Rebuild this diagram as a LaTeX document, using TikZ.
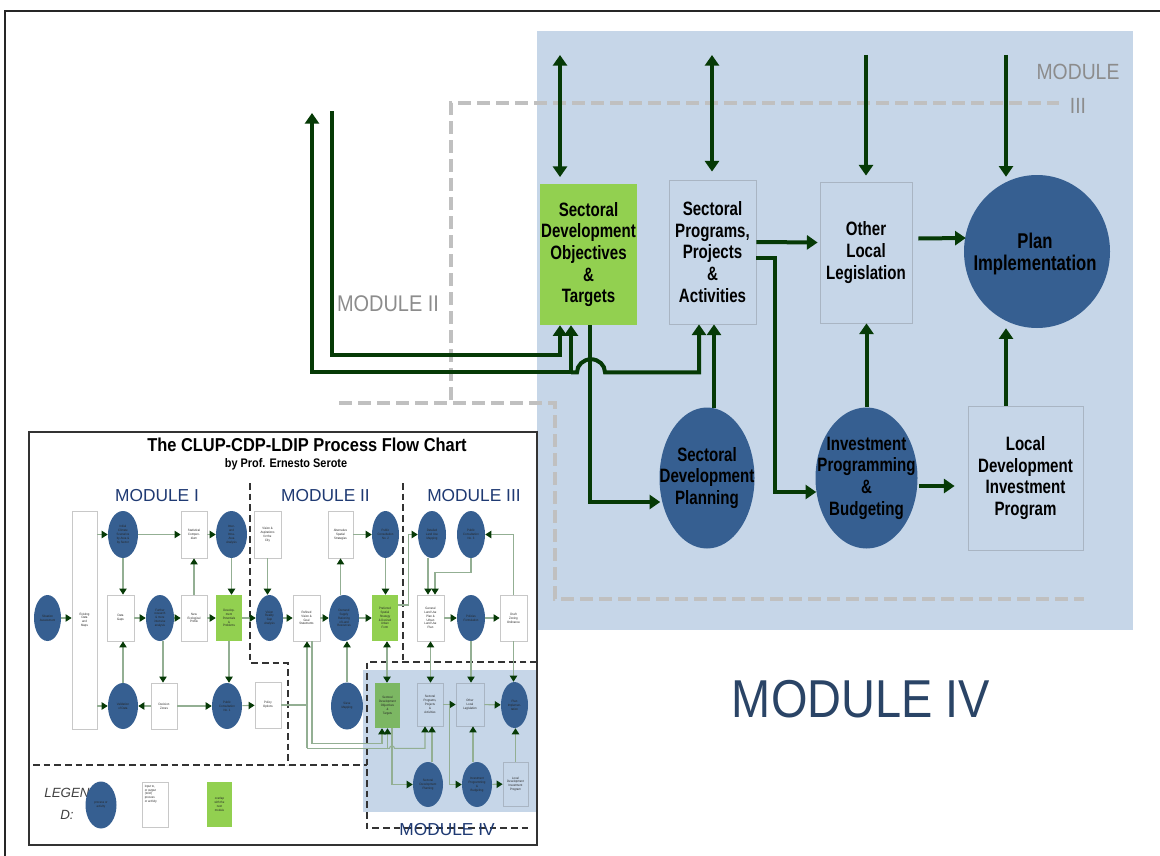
\documentclass[tikz,border=0pt]{standalone}
\usepackage{fontspec}
\setmainfont{Liberation Sans}[FakeStretch=0.88]
\newfontfamily\narrowsans{Liberation Sans}[FakeStretch=0.78]
\newfontfamily\plainsans{Liberation Sans}
\usetikzlibrary{shapes.geometric,arrows.meta,calc}

\definecolor{bgblue}{HTML}{C6D6E8}
\definecolor{ellblue}{HTML}{365F91}
\definecolor{leaf}{HTML}{92D050}
\definecolor{leafdim}{HTML}{7CB763}
\definecolor{flow}{HTML}{063A06}
\definecolor{dashgray}{HTML}{C0C0C0}
\definecolor{modgray}{HTML}{8C8C8C}
\definecolor{modblue}{HTML}{2A4466}
\definecolor{insetblue}{HTML}{1F3A73}
\definecolor{thinflow}{HTML}{93AF93}
\definecolor{boxedge}{HTML}{A9B5C3}
\definecolor{paleedge}{HTML}{C8C8C8}

\tikzset{
  wh/.style 2 args={minimum width=#1*0.75pt, minimum height=#2*0.75pt},
  % large flow chart
  mtext/.style={font=\narrowsans\bfseries\fontsize{14.5}{16.2}\selectfont, align=center, text=black, inner sep=0pt},
  mbox/.style={rectangle, draw=boxedge, line width=0.6pt, fill=bgblue, inner sep=0pt},
  mgreen/.style={rectangle, fill=leaf, inner sep=0pt},
  mell/.style={ellipse, fill=ellblue, inner sep=0pt},
  tipbig/.tip={Triangle[length=8pt,width=10.5pt]},
  flowline/.style={draw=flow, line width=3pt},
  flowarr/.style={flowline, -tipbig},
  flowboth/.style={flowline, tipbig-tipbig},
  gdash/.style={draw=dashgray, line width=3.6pt, dash pattern=on 9.75pt off 4.5pt},
  % small overview chart
  itext/.style={font=\fontsize{2.4}{2.9}\selectfont, align=center, text=black!85, inner sep=0pt},
  ibox/.style={itext, rectangle, draw=paleedge, line width=0.6pt, fill=white},
  iboxb/.style={itext, rectangle, draw=boxedge, line width=0.6pt, fill=bgblue},
  iell/.style={itext, ellipse, fill=ellblue},
  igreen/.style={itext, rectangle, fill=leaf},
  itip/.tip={Triangle[length=4.5pt,width=5.5pt,color=flow]},
  ithin/.style={draw=thinflow, line width=0.8pt},
  ithinarr/.style={ithin, -itip},
  ithinboth/.style={ithin, itip-itip},
  kdash/.style={draw=black!80, line width=1.1pt, dash pattern=on 5pt off 3pt},
}

\begin{document}
\begin{tikzpicture}[x=0.75pt,y=-0.75pt]
\useasboundingbox (0,0) rectangle (1160,856);
\fill[white] (0,0) rectangle (1160,856);

% page frame
\draw[line width=1.6pt, black!85] (5,856) -- (5,11) -- (1160,11);

% Module IV panel
\fill[bgblue] (537,31) rectangle (1133,630);

% module outlines
\draw[gdash] (451,400) -- (451,103) -- (1059,103);
\draw[gdash] (339,403) -- (555,403) -- (555,599) -- (1084,599);

\node[font=\fontsize{16.5}{18}\selectfont, text=modgray] (m3a) at (1078,72) {MODULE};
\node[font=\fontsize{16.5}{18}\selectfont, text=modgray] (m3b) at (1078,106) {III};
\node[font=\fontsize{17}{19}\selectfont, text=modgray] (m2) at (388,304) {MODULE II};
\node[font=\fontsize{40}{44}\selectfont, text=modblue] (m4) at (861,699) {MODULE IV};

% ---------- large flow chart ----------
\node[mgreen, wh={97}{141}] (sdot) at (588.5,254.5) {};
\node[mtext] (sdott) at (sdot) {Sectoral\\Development\\Objectives\\\&\\Targets};
\node[mbox, wh={87}{144}] (spp) at (712.5,252) {};
\node[mtext] (sppt) at (spp) {Sectoral\\Programs,\\Projects\\\&\\Activities};
\node[mbox, wh={92}{141}] (oll) at (866,252.5) {};
\node[mtext] (ollt) at (oll) {Other\\Local\\Legislation};
\node[mell, wh={146}{153}] (pi) at (1037,251.5) {};
\node[mtext, font=\narrowsans\bfseries\fontsize{16}{16.5}\selectfont] (pit) at ($(pi)+(-2,2)$) {Plan\\Implementation};
\node[mell, wh={95}{141}] (sdp) at (707,478) {};
\node[mtext] (sdpt) at (sdp) {Sectoral\\Development\\Planning};
\node[mell, wh={102}{141}] (ipb) at (866.5,478) {};
\node[mtext] (ipbt) at (ipb) {Investment\\Programming\\\&\\Budgeting};
\node[mbox, wh={115}{144}] (ldip) at (1025.5,478) {};
\node[mtext] (ldipt) at (ldip) {Local\\Development\\Investment\\Program};

% links from the modules above
\coordinate (t1) at (560,55);
\coordinate (t2) at (712,55);
\coordinate (t3) at (866,55);
\coordinate (t4) at (1006,55);
\draw[flowboth, shorten >=5pt] (t1) -- (t1 |- sdot.north);
\draw[flowboth, shorten >=6pt] (t2) -- (t2 |- spp.north);
\draw[flowarr, shorten >=4.5pt] (t3) -- (t3 |- oll.north);
\draw[flowarr] (t4) -- ($(pi.north)+(-31,2)$);

% links from module II
\coordinate (l1) at (312,113);
\coordinate (l2) at (332,111);
\coordinate (jn) at ($(sdot.south)+(-17.5,47)$);
\draw[flowarr] (l2) |- ($(sdot.south)+(-28.5,30)$) -- ($(sdot.south)+(-28.5,0)$);
\draw[flowarr] (jn) -| (l1);
\draw[flowarr] (jn) -- (jn |- sdot.south);
\draw[flowarr] (jn) -- ++(6,0) arc[start angle=180,end angle=360,x radius=14,y radius=13] -| ($(spp.south)+(-13.5,0)$);

% module IV links
\draw[flowarr] ($(sdot.south)+(1,0)$) |- ($(sdp.west)+(1,24)$);
\draw[flowarr] ($(spp.east)+(0,-10)$) -- ($(oll.west)+(-2,-10)$);
\draw[flowarr] ($(spp.east)+(0,6)$) -- ++(19,0) |- ($(ipb.west)+(1,14)$);
\draw[flowarr] ($(sdp.north)+(7,1)$) -- ($(spp.south)+(1.5,0)$);
\draw[flowarr] (ipb.north) -- (ipb.north |- oll.south);
\draw[flowarr] ($(oll.east)+(6,-14)$) -- ($(pi.west)+(2,-13.5)$);
\draw[flowarr] ($(ipb.east)+(1,8)$) -- ($(ldip.west)+(-13,8)$);
\draw[flowarr] ($(ldip.north)+(-19.5,0)$) -- ($(pi.south)+(-31,0)$);

% ---------- overview chart ----------
\fill[white] (29,432) rectangle (537,845);
\fill[bgblue] (363,670) rectangle (537,812);

\node[font=\bfseries\fontsize{14}{16}\selectfont] (ttl) at (307,445) {The CLUP-CDP-LDIP Process Flow Chart};
\node[font=\bfseries\fontsize{9.3}{11}\selectfont] (sub) at (286,464) {by Prof. Ernesto Serote};
\node[font=\plainsans\fontsize{13}{15}\selectfont, text=insetblue] (im1) at (157,496) {MODULE I};
\node[font=\plainsans\fontsize{13}{15}\selectfont, text=insetblue] (im2) at (325.5,496) {MODULE II};
\node[font=\plainsans\fontsize{13}{15}\selectfont, text=insetblue] (im3) at (474,496) {MODULE III};

\draw[kdash] (250,483) -- (250,663) -- (288,663) -- (288,765);
\draw[kdash] (33,765) -- (367,765);
\draw[kdash] (403,483) -- (403,662);
\draw[kdash] (537,662) -- (367,662) -- (367,828) -- (528,828);
\node[font=\plainsans\fontsize{13}{15}\selectfont, text=insetblue] (im4) at (447,830) {MODULE IV};

% module I
\node[iell, wh={27}{46}] (i_sa) at (47.5,618) {Situation\\Assessment};
\node[ibox, wh={25}{218}] (i_edm) at (84.5,620) {Existing\\Data\\and\\Maps};
\node[iell, wh={30}{47}] (i_ics) at (123,534.5) {Initial\\Climate\\Scenarios\\by Area \&\\by Sector};
\node[ibox, wh={26}{47}] (i_sc) at (194,534.5) {Statistical\\Compen-\\dium};
\node[iell, wh={31}{47}] (i_iia) at (231.5,534.5) {Inter-\\and\\Intra-\\Area\\Analysis};
\node[ibox, wh={27}{46}] (i_dg) at (120.5,618) {Data\\Gaps};
\node[iell, wh={28}{46}] (i_fr) at (160,618) {Further\\research\\\& more\\intensive\\analysis};
\node[ibox, wh={26}{46}] (i_nep) at (194,618) {New\\Ecological\\Profile};
\node[igreen, wh={26}{46}] (i_dpp) at (229,618) {Develop-\\ment\\Potentials\\\&\\Problems};
\node[iell, wh={30}{46}] (i_vd) at (123,706) {Validation\\of Data};
\node[ibox, wh={26}{46}] (i_dz) at (164,706) {Decision\\Zones};
\node[iell, wh={30}{46}] (i_pc1) at (227,706) {Public\\Consultation\\No. 1};
\node[ibox, wh={26}{46}] (i_po) at (268,705) {Policy\\Options};

% module II
\node[ibox, wh={27}{47}] (i_va) at (267.5,534.5) {Vision \&\\Aspirations\\for the\\City};
\node[ibox, wh={25}{47}] (i_asa) at (340.5,534.5) {Alternative\\Spatial\\Strategies};
\node[iell, wh={27}{47}] (i_pc2) at (385.5,534.5) {Public\\Consultation\\No. 2};
\node[iell, wh={27}{46}] (i_vrg) at (269.5,618) {Vision\\Reality\\Gap\\Analysis};
\node[ibox, wh={27}{46}] (i_rv) at (306.5,618) {Refined\\Vision \&\\Goal\\Statements};
\node[iell, wh={30}{46}] (i_ds) at (344,618) {Demand\\Supply\\Rationing\\of Land\\Resources};
\node[igreen, wh={26}{46}] (i_pss) at (385,618) {Preferred\\Spatial\\Strategy\\\& Desired\\Urban\\Form};
\node[iell, wh={32}{47}] (i_sm) at (347,706) {Sieve\\Mapping};

% module III
\node[iell, wh={28}{47}] (i_dlu) at (432,534.5) {Detailed\\Land Use\\Mapping};
\node[iell, wh={28}{47}] (i_pc3) at (471,534.5) {Public\\Consultation\\No. 3};
\node[ibox, wh={27}{46}] (i_glu) at (430.5,618) {General\\Land Use\\Plan \&\\Urban\\Land Use\\Plan};
\node[iell, wh={28}{46}] (i_pf) at (471,618) {Policies\\Formulation};
\node[ibox, wh={27}{46}] (i_dzo) at (513.5,618) {Draft\\Zoning\\Ordinance};

% module IV
\node[itext, rectangle, fill=leafdim, wh={25}{45}] (i_sdot) at (387.5,705.5) {Sectoral\\Development\\Objectives\\\&\\Targets};
\node[iboxb, wh={26}{43}] (i_spp) at (430,704.5) {Sectoral\\Programs,\\Projects\\\&\\Activities};
\node[iboxb, wh={28}{43}] (i_oll) at (470,704.5) {Other\\Local\\Legislation};
\node[iell, wh={27}{46}] (i_pi) at (514.5,705) {Plan\\Implemen-\\tation};
\node[iell, wh={30}{45}] (i_sdp) at (428,784.5) {Sectoral\\Development\\Planning};
\node[iell, wh={30}{45}] (i_ipb) at (477,784.5) {Investment\\Programming\\\&\\Budgeting};
\node[iboxb, wh={25}{44}] (i_ldip) at (515.5,784) {Local\\Development\\Investment\\Program};

% module I links
\draw[ithinarr] (i_edm.east |- i_ics.west) -- (i_ics.west);
\draw[ithinarr] (i_ics) -- (i_sc);
\draw[ithinarr] (i_sc) -- (i_iia);
\draw[ithinarr] (i_ics.south) -- (i_ics.south |- i_dg.north);
\draw[ithinarr] (i_sa) -- (i_sa -| i_edm.west);
\draw[ithinarr] (i_dg) -- (i_fr);
\draw[ithinarr] (i_fr) -- (i_nep);
\draw[ithinarr] (i_nep) -- (i_sc);
\draw[ithinarr] (i_nep) -- (i_dpp);
\draw[ithinarr] (i_iia.south) -- (i_iia.south |- i_dpp.north);
\draw[ithinarr] (i_dpp) -- (i_vrg);
\draw[ithinarr] (i_va.south) -- (i_va.south |- i_vrg.north);
\draw[ithinarr] (i_edm.east |- i_vd.west) -- (i_vd.west);
\draw[ithinarr] (i_vd.north) -- (i_vd.north |- i_dg.south);
\draw[ithinarr] ($(i_fr.south)+(3,0)$) -- ($(i_dz.north)+(-1,0)$);
\draw[ithinarr] (i_dz) -- (i_vd);
\draw[ithinarr] (i_dz) -- (i_pc1);
\draw[ithinarr] (i_dpp.south) -- (i_dpp.south |- i_pc1.north);
\draw[ithinarr] (i_pc1) -- (i_po);

% module II links
\draw[ithinarr] (i_vrg) -- (i_rv);
\draw[ithinarr] (i_rv) -- (i_ds);
\draw[ithinarr] (i_ds) -- (i_pss);
\draw[ithinarr] (i_sm.north) -- (i_sm.north |- i_ds.south);
\draw[ithinarr] (i_ds.north -| i_asa.south) -- (i_asa.south);
\draw[ithinarr] (i_asa) -- (i_pc2);
\draw[ithinarr] (i_pc2.south) -- (i_pc2.south |- i_pss.north);
\draw[ithinboth] ($(i_pss.south)+(2,0)$) -- ($(i_sdot.north)+(-0.5,0)$);
\draw[ithinarr] ($(i_pss.east)+(0,-13)$) -- ++(10,0) |- (i_dlu.west);

% module III links
\draw[ithinarr] ($(i_dlu.south)+(-4,0)$) -- ($(i_glu.north)+(-2.5,0)$);
\draw[ithinarr] (i_pc3.south) -- ++(0,14) -| ($(i_glu.north)+(4.5,0)$);
\draw[ithinarr] (i_dzo.north) |- (i_pc3.east);
\draw[ithinarr] (i_glu) -- (i_pf);
\draw[ithinarr] (i_pf) -- (i_dzo);
\draw[ithinboth] (i_glu.south) -- (i_glu.south |- i_spp.north);
\draw[ithinarr] (i_pf.south) -- (i_pf.south |- i_oll.north);
\draw[ithinarr] (i_dzo.south) -- (i_dzo.south |- i_pi.north);

% module IV links
\coordinate (iq) at ($(i_rv.south)+(0.5,107)$);
\draw[ithinarr] (iq) -- ($(i_rv.south)+(0.5,0)$);
\draw[ithin] (i_po.east) -- (i_po.east -| iq);
\draw[ithinarr] (iq) -| (i_sdot.south);
\draw[ithinarr] (iq -| i_sdot.south) -- ++(2,0) arc[start angle=180,end angle=360,radius=2.5] -| ($(i_spp.south)+(-5,0)$);
\draw[ithinarr] ($(i_rv.south)+(5.5,0)$) |- ($(i_sdot.south)+(-5.5,15)$) -- ($(i_sdot.south)+(-5.5,0)$);
\draw[ithinarr] ($(i_sdot.south)+(4.5,0)$) |- (i_sdp.west);
\draw[ithinarr] ($(i_sdp.north)+(4,0)$) -- ($(i_spp.south)+(2,0)$);
\draw[ithinarr] (i_spp) -- (i_oll);
\draw[ithinarr] ($(i_spp.east)+(6,0)$) |- (i_ipb.west);
\draw[ithinarr] (i_oll) -- (i_pi);
\draw[ithinarr] ($(i_ipb.north)+(-4,0)$) -- ($(i_oll.south)+(3,0)$);
\draw[ithinarr] (i_ipb) -- (i_ldip);
\draw[ithinarr] (i_ldip.north) -- (i_ldip.north |- i_pi.south);

% legend
\node[font=\plainsans\itshape\fontsize{10}{12}\selectfont, text=black!75] (lg1) at (67,793) {LEGEN};
\node[font=\plainsans\itshape\fontsize{10}{12}\selectfont, text=black!75] (lg2) at (67,815) {D:};
\node[iell, wh={31}{47}] (lge) at (101,805) {process or\\activity};
\node[ibox, wh={26}{45}] (lgb) at (155,804.5) {};
\node[itext, align=left, anchor=north west] (lgbt) at ($(lgb.north west)+(3,3)$) {input to,\\or output\\(to/of)\\process\\or activity};
\node[igreen, wh={25}{45}] (lgg) at (219.5,804.5) {overlap\\with the\\next\\module};

% overview frame
\draw[line width=1.5pt, black!80] (29,432) rectangle (537,845);
\end{tikzpicture}
\end{document}
